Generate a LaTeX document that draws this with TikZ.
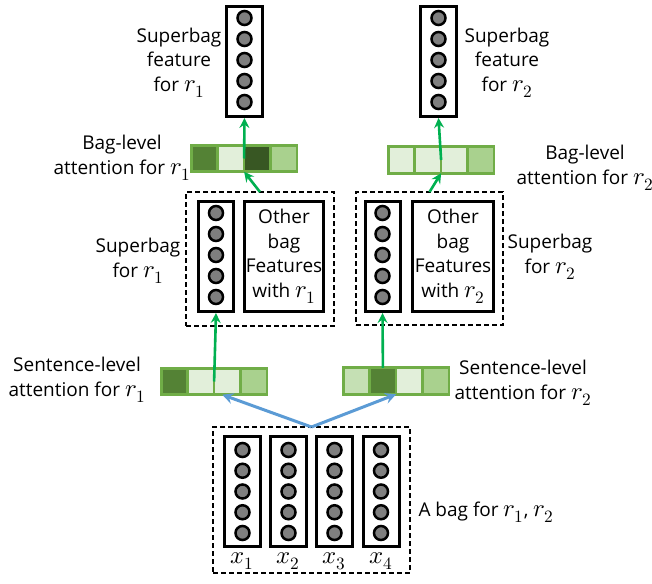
\documentclass[tikz,border=0pt]{standalone}
\usepackage{fontspec}
\usepackage{unicode-math}
\setmainfont{Open Sans}
\setmathfont{latinmodern-math.otf}[Scale=1.3]
\usetikzlibrary{positioning,arrows.meta}

\definecolor{attline}{HTML}{70AD47}
\definecolor{attA}{HTML}{548235}
\definecolor{attB}{HTML}{E2EFDA}
\definecolor{attC}{HTML}{385723}
\definecolor{attD}{HTML}{A9D18E}
\definecolor{attE}{HTML}{C5E0B4}
\definecolor{upgreen}{HTML}{00B050}
\definecolor{selblue}{HTML}{5B9BD5}
\definecolor{neurongray}{HTML}{7F7F7F}

\tikzset{
  colbox/.style={draw,line width=3pt,minimum width=36,minimum height=110,inner sep=0},
  otherbox/.style={draw,line width=3pt,minimum height=110,inner sep=0,align=center,lbl},
  neuron/.style={circle,draw,line width=2.5pt,fill=neurongray,minimum size=14,inner sep=0},
  cell/.style={draw=attline,line width=2.6pt,minimum width=26.4,minimum height=26.5,inner sep=0,outer sep=0},
  dashbox/.style={draw,dash pattern=on 5pt off 3pt,line width=1.2pt,inner sep=0,outer sep=0},
  lbl/.style={font=\fontsize{19}{24.5}\selectfont,align=center},
  garrow/.style={upgreen,line width=2.6pt,-{Stealth[length=10pt,width=10pt,inset=3.5pt]}},
  barrow/.style={selblue,line width=3pt,-{Stealth[length=11pt,width=11pt,inset=4pt]}},
}

\begin{document}
\begin{tikzpicture}[x=1pt,y=-1pt]
  \useasboundingbox (0,0) rectangle (652,583);
  % Superbag features
  \node[colbox] (sf1) at (244.5,61.5) {};
  \node[colbox] (sf2) at (438.5,61.5) {};
  \foreach \i in {0,...,4} {
    \node[neuron] (sf1n\i) at (244.5,18+21*\i) {};
    \node[neuron] (sf2n\i) at (438.5,18+21*\i) {};
  }
  \node[lbl] (sf1lbl) at (179,62.5) {Superbag\\feature\\for $r_1$};
  \node[lbl] (sf2lbl) at (507,62.5) {Superbag\\feature\\for $r_2$};
  % Bag-level attention
  \node[cell,fill=attA] (b1a) at (204.5,158.5) {};
  \node[cell,fill=attB,right=0pt of b1a] (b1b) {};
  \node[cell,fill=attC,right=0pt of b1b] (b1c) {};
  \node[cell,fill=attD,right=0pt of b1c] (b1d) {};
  \node[cell,fill=attB] (b2a) at (401.5,160) {};
  \node[cell,fill=attB,right=0pt of b2a] (b2b) {};
  \node[cell,fill=attB,right=0pt of b2b] (b2c) {};
  \node[cell,fill=attD,right=0pt of b2c] (b2d) {};
  \node[lbl] (b1lbl) at (122,158) {Bag-level\\attention for $r_1$};
  \node[lbl] (b2lbl) at (585,168) {Bag-level\\attention for $r_2$};
  % Superbags
  \node[dashbox,minimum width=148,minimum height=134] (sb1) at (260,259) {};
  \node[dashbox,minimum width=147,minimum height=133] (sb2) at (429.5,258.5) {};
  \node[colbox,minimum width=35] (sc1) at (216,256.5) {};
  \node[colbox,minimum width=35] (sc2) at (382.5,256.5) {};
  \foreach \i in {0,...,4} {
    \node[neuron] (sc1n\i) at (216,213+21*\i) {};
    \node[neuron] (sc2n\i) at (382.5,213+21*\i) {};
  }
  \node[otherbox,minimum width=79] (so1) at (284,256.5) {Other\\bag\\Features\\with $r_1$};
  \node[otherbox,minimum width=81] (so2) at (453,256.5) {Other\\bag\\Features\\with $r_2$};
  \node[lbl] (sb1lbl) at (138,261) {Superbag\\for $r_1$};
  \node[lbl] (sb2lbl) at (550,257) {Superbag\\for $r_2$};
  % Sentence-level attention
  \node[cell,fill=attA] (s1a) at (174.5,381.5) {};
  \node[cell,fill=attB,right=0pt of s1a] (s1b) {};
  \node[cell,fill=attB,right=0pt of s1b] (s1c) {};
  \node[cell,fill=attD,right=0pt of s1c] (s1d) {};
  \node[cell,fill=attE] (s2a) at (356.5,381) {};
  \node[cell,fill=attA,right=0pt of s2a] (s2b) {};
  \node[cell,fill=attB,right=0pt of s2b] (s2c) {};
  \node[cell,fill=attD,right=0pt of s2c] (s2d) {};
  \node[lbl] (s1lbl) at (77,380) {Sentence-level\\attention for $r_1$};
  \node[lbl] (s2lbl) at (523,383) {Sentence-level\\attention for $r_2$};
  % The bag
  \node[dashbox,minimum width=197,minimum height=146] (bag) at (311.5,500) {};
  \foreach \x [count=\k] in {242.5,288.5,334.5,381} {
    \node[colbox] (x\k) at (\x,491) {};
    \foreach \i in {0,...,4}
      \node[neuron] (x\k n\i) at (\x,450+20.75*\i) {};
    \node[lbl] (x\k lbl) at (\x,561) {$x_{\k}$};
  }
  \node[lbl,anchor=west] (baglbl) at (415,512) {A bag for $r_1$,\ $r_2$};
  % Arrows
  \draw[barrow] (bag.north) -- ([xshift=-5pt]s1c.south);
  \draw[barrow] (bag.north) -- (s2b.south east);
  \draw[garrow] (s1b.east) -- (sc1.south);
  \draw[garrow] (s2b.north) -- (sc2.south);
  \draw[garrow] (sb1.north) -- (b1b.south east);
  \draw[garrow] (sb2.north) -- (b2b.south east);
  \draw[garrow] (b1b.east) -- (sf1.south);
  \draw[garrow] (b2b.east) -- (sf2.south);
\end{tikzpicture}
\end{document}
